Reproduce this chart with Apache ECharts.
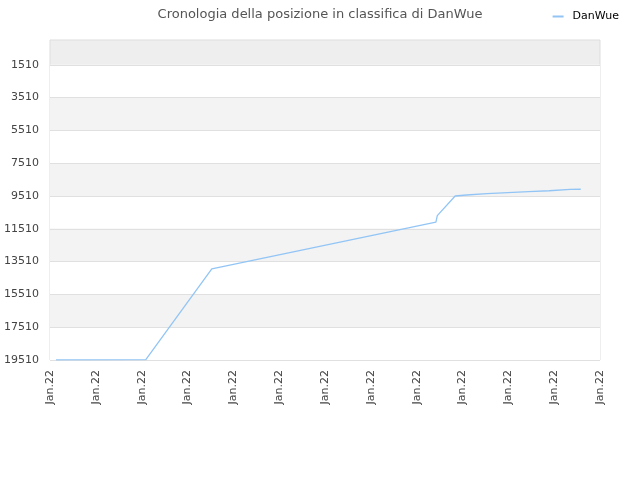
<!DOCTYPE html>
<html>
<head>
<meta charset="utf-8">
<script src="https://cdn.jsdelivr.net/npm/echarts@6/dist/echarts.min.js"></script>
<style>
    html, body {margin: 0; padding: 0; background: #fff;}
    #chart {width: 640px; height: 480px;}
</style>
</head>
<body>
<div id="chart"></div>
<script>
// posizioni (x in giorni, y = posizione)
var dayValues = [0.13, 2.09, 3.53, 8.42, 8.45, 8.84, 9.09, 9.53, 9.99, 10.44, 10.89, 11.35, 11.58];
var rankValues = [19500, 19490, 13950, 11110, 10710, 9510, 9450, 9370, 9310, 9250, 9190, 9110, 9100];
var xLabels = ['Jan.22', 'Jan.22', 'Jan.22', 'Jan.22', 'Jan.22', 'Jan.22', 'Jan.22',
    'Jan.22', 'Jan.22', 'Jan.22', 'Jan.22', 'Jan.22', 'Jan.22'];
var yTicks = [1510, 3510, 5510, 7510, 9510, 11510, 13510, 15510, 17510, 19510];

var points = [];
for (var i = 0; i < dayValues.length; i++) {
    points.push([dayValues[i], rankValues[i]]);
}

var myChart = echarts.init(document.getElementById('chart'));
var option = {
    animation: false,
    title: {
        text: 'Cronologia della posizione in classifica di DanWue',
        left: 'center',
        top: 3,
        textStyle: {
            color: '#555',
            fontSize: 13,
            fontWeight: 'normal',
            fontFamily: 'DejaVu Sans'
        }
    },
    legend: {
        right: 16,
        top: 6,
        itemWidth: 11,
        itemHeight: 2,
        itemGap: 6,
        icon: 'rect',
        textStyle: {
            color: '#000',
            fontSize: 11,
            fontFamily: 'DejaVu Sans',
            padding: [0, 0, 0, 4]
        },
        data: ['DanWue']
    },
    grid: {
        left: 50,
        right: 40,
        top: 40,
        bottom: 120,
        show: true,
        backgroundColor: '#eeeeee',
        borderColor: '#dddddd',
        borderWidth: 1
    },
    xAxis: {
        type: 'value',
        min: 0,
        max: 12,
        interval: 1,
        axisLine: {show: false},
        axisTick: {show: false},
        splitLine: {show: false},
        axisLabel: {
            rotate: 90,
            color: '#444',
            fontSize: 11,
            fontFamily: 'DejaVu Sans',
            margin: 10,
            formatter: function (value) {
                return xLabels[Math.round(value)];
            }
        }
    },
    yAxis: {
        type: 'value',
        inverse: true,
        min: 0,
        max: 19510,
        axisLine: {show: false},
        axisTick: {show: false, customValues: yTicks},
        axisLabel: {
            customValues: yTicks,
            color: '#444',
            fontSize: 11,
            fontFamily: 'DejaVu Sans',
            margin: 11,
            formatter: function (value) {
                return String(value);
            }
        },
        splitLine: {
            show: true,
            lineStyle: {color: '#e0e0e0', width: 1}
        },
        splitArea: {
            show: true,
            areaStyle: {color: ['#ffffff', '#f3f3f3']}
        }
    },
    series: [{
        name: 'DanWue',
        type: 'line',
        data: points,
        showSymbol: false,
        symbol: 'none',
        lineStyle: {color: '#92c5f5', width: 1.3},
        itemStyle: {color: '#92c5f5'}
    }]
};
myChart.setOption(option);
</script>
</body>
</html>
